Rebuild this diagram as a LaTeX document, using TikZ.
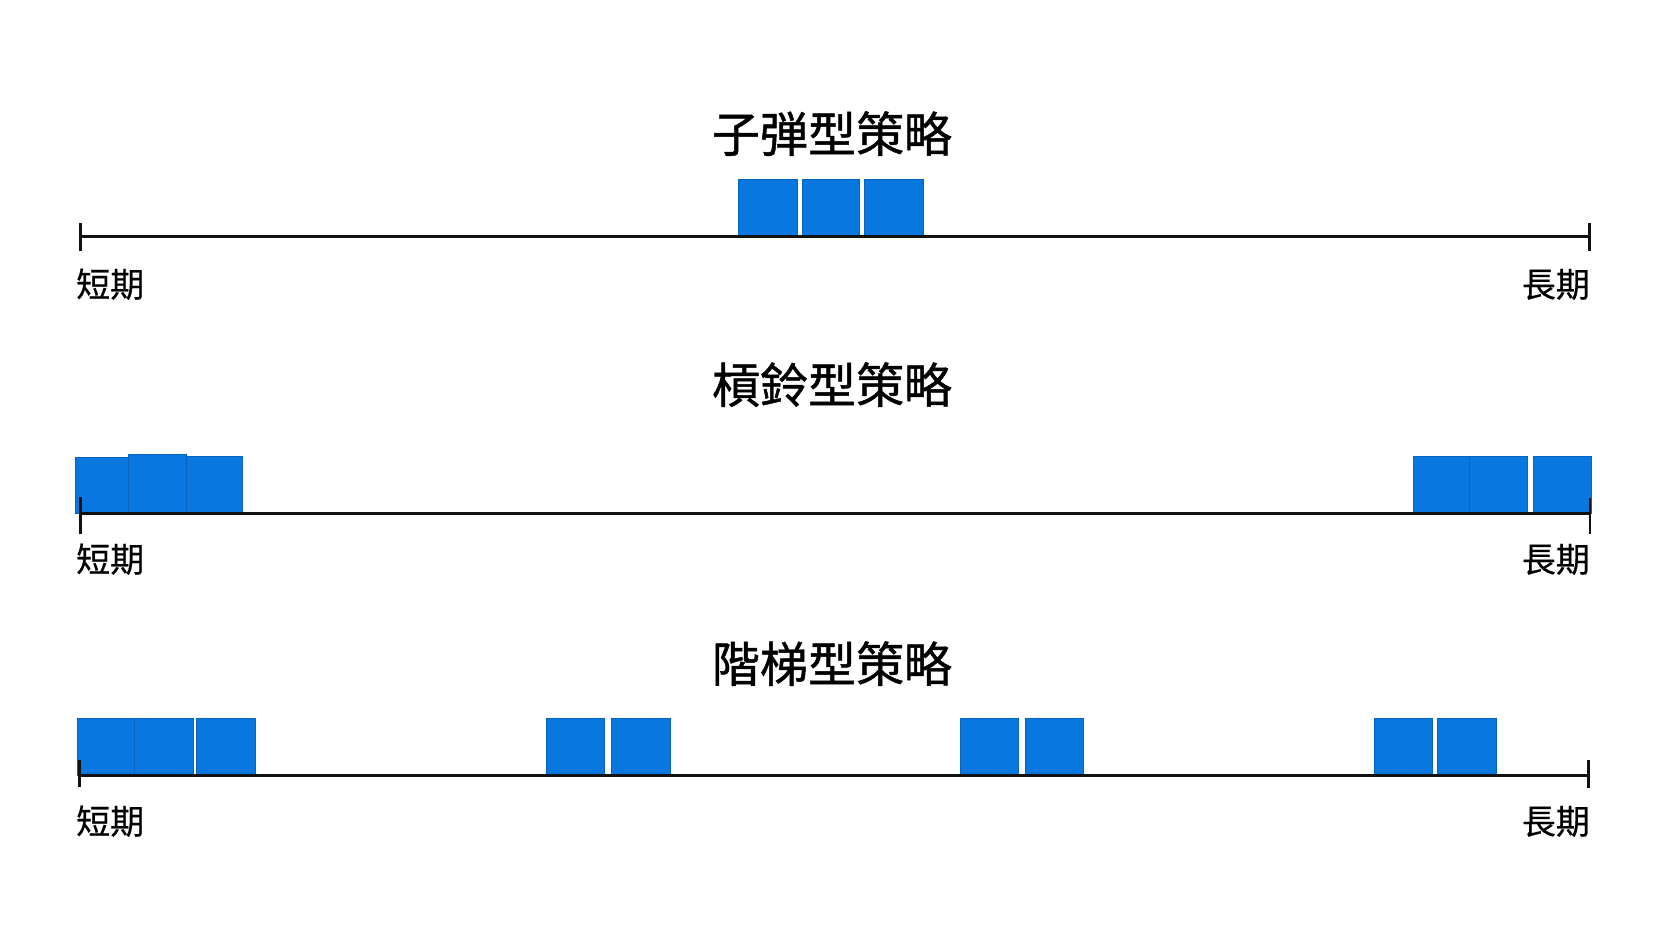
\documentclass[tikz,border=0pt]{standalone}
\usepackage{fontspec}
\setmainfont{Noto Sans CJK TC}
\newfontfamily\titlefont[FakeBold=1]{Noto Sans CJK TC}
\newfontfamily\lblfont[FakeBold=0.5]{Noto Sans CJK TC}
\definecolor{blockblue}{RGB}{8,120,224}
\definecolor{blockedge}{RGB}{6,100,190}
\definecolor{axisink}{RGB}{17,17,17}
\tikzset{
  blk/.style={fill=blockblue, draw=blockedge, line width=0.5pt, inner sep=0pt, anchor=south west, minimum height=57pt},
  axisline/.style={draw=axisink, line width=3pt},
  tickline/.style={draw=axisink, line width=2.6pt},
  ttl/.style={font=\titlefont\fontsize{48}{48}\selectfont, anchor=base, inner sep=0pt, text=black},
  endlbl/.style={font=\lblfont\fontsize{34}{34}\selectfont, inner sep=0pt, text=black}
}
\begin{document}
\begin{tikzpicture}[x=1pt,y=-1pt]
\fill[white] (0,0) rectangle (1666,937);
\useasboundingbox (0,0) rectangle (1666,937);

% ---------- Row 1: bullet ----------
\node[ttl] (t1) at (832,152) {子弾型策略};
\node[blk, minimum width=59pt] (b1a) at (738,236.7) {};
\node[blk, minimum width=57pt] (b1b) at (802,236.7) {};
\node[blk, minimum width=59pt] (b1c) at (864,236.7) {};
\coordinate (a1L) at (80.5,236.7);
\coordinate (a1R) at (1589.5,236.7);
\draw[axisline] (a1L) -- (a1R);
\draw[tickline] ([yshift=-14pt]a1L) -- ([yshift=14pt]a1L);
\draw[tickline] ([yshift=-14pt]a1R) -- ([yshift=14pt]a1R);
\node[endlbl, anchor=base west] (s1) at (76,297) {短期};
\node[endlbl, anchor=base east] (l1) at (1590,297) {長期};

% ---------- Row 2: barbell ----------
\node[ttl] (t2) at (832,403) {槓鈴型策略};
\node[blk, minimum width=53pt, minimum height=56pt] (b2a) at (75,513) {};
\node[blk, minimum width=58pt, minimum height=59pt] (b2b) at (128,513) {};
\node[blk, minimum width=56pt] (b2c) at (186,513) {};
\node[blk, minimum width=56pt] (b2d) at (1413,513) {};
\node[blk, minimum width=58pt] (b2e) at (1469,513) {};
\node[blk, minimum width=58pt] (b2f) at (1533,513) {};
\coordinate (a2L) at (80.5,513);
\coordinate (a2R) at (1590,513);
\draw[axisline] (a2L) -- (a2R);
\draw[tickline] ([yshift=-21pt]a2L) -- ([yshift=16pt]a2L);
\draw[tickline] ([yshift=-21pt]a2R) -- ([yshift=15pt]a2R);
\node[endlbl, anchor=base west] (s2) at (76,572) {短期};
\node[endlbl, anchor=base east] (l2) at (1590,572) {長期};

% ---------- Row 3: ladder ----------
\node[ttl] (t3) at (832,682) {階梯型策略};
\node[blk, minimum width=57pt] (b3a) at (77,775) {};
\node[blk, minimum width=59pt] (b3b) at (134,775) {};
\node[blk, minimum width=59pt] (b3c) at (196,775) {};
\node[blk, minimum width=58pt] (b3d) at (545.5,775) {};
\node[blk, minimum width=59pt] (b3e) at (611,775) {};
\node[blk, minimum width=58pt] (b3f) at (960,775) {};
\node[blk, minimum width=58pt] (b3g) at (1025,775) {};
\node[blk, minimum width=57.5pt] (b3h) at (1374,775) {};
\node[blk, minimum width=59pt] (b3i) at (1437,775) {};
\coordinate (a3L) at (79.5,775);
\coordinate (a3R) at (1588.5,775);
\draw[axisline] (a3L) -- (a3R);
\draw[tickline] ([yshift=-12pt]a3L) -- ([yshift=15pt]a3L);
\draw[tickline] ([yshift=-13pt]a3R) -- ([yshift=15pt]a3R);
\node[endlbl, anchor=base west] (s3) at (76,834) {短期};
\node[endlbl, anchor=base east] (l3) at (1590,834) {長期};
\end{tikzpicture}
\end{document}
